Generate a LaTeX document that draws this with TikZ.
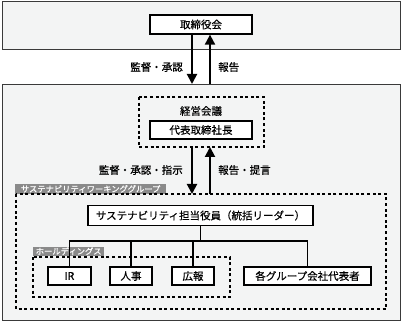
\documentclass[tikz,border=0pt]{standalone}
\usepackage{fontspec}
\setmainfont{Noto Sans CJK JP}[FakeBold=0.5]
\newfontfamily\tagfont{Noto Sans CJK JP}[FakeBold=0.7]
\usetikzlibrary{arrows.meta,positioning,calc}
\definecolor{panelfill}{HTML}{F3F4F4}
\definecolor{panelline}{HTML}{3A3A3A}
\definecolor{taggray}{HTML}{8A8A8A}
\tikzset{
  panel/.style={draw=panelline,line width=0.9pt,fill=panelfill},
  box/.style={draw=black,line width=1.3pt,fill=white,inner sep=0pt,minimum height=19pt,font=\fontsize{10.5}{12}\selectfont},
  dbox/.style={draw=black,line width=2pt,dash pattern=on 3pt off 2.6pt},
  tag/.style={fill=taggray,text=white,inner sep=0pt,font=\tagfont\fontsize{8.3}{9}\selectfont},
  lbl/.style={inner sep=0pt,font=\fontsize{10.5}{12}\selectfont},
  arr/.style={line width=2pt,-{Triangle[width=10pt,length=10pt]}},
  tree/.style={line width=1.3pt}
}
\begin{document}
\begin{tikzpicture}[x=1pt,y=-1pt]
\useasboundingbox (0,0) rectangle (402,323);
% panels
\draw[panel] (2,1) rectangle (400,49);
\draw[panel] (2,84) rectangle (400,320);
\coordinate (toppanelS) at (201,49);
\coordinate (botpanelN) at (201,84);
% board
\node[box,minimum width=102pt] (board) at (201,24.5) {取締役会};
% arrows between panels
\draw[arr] ([xshift=-9pt]board.south) -- ([xshift=-9pt]botpanelN);
\draw[arr] ([xshift=9pt]botpanelN) -- ([xshift=9pt]board.south);
\node[lbl,anchor=east] (l1) at (183,67) {監督・承認};
\node[lbl,anchor=west] (l2) at (218,67) {報告};
% management meeting
\draw[dbox] (139,97) rectangle (264,147);
\coordinate (mgS) at (201,147);
\node[lbl] (mg) at (201,111) {経営会議};
\node[box,minimum width=102pt,minimum height=18pt] (pres) at (201,130) {代表取締社長};
% WG tag and box
\node[tag,minimum width=151pt,minimum height=9.5pt,anchor=north west] (wgtag) at (15,184) {サステナビリティワーキンググループ};
\draw[dbox] (16,194) rectangle (386,309);
\coordinate (wgN) at (201,194);
\draw[arr] ([xshift=-9pt]mgS) -- ([xshift=-9pt]wgN);
\draw[arr] ([xshift=9pt]wgN) -- ([xshift=9pt]mgS);
\node[lbl,anchor=east] (l3) at (183,170) {監督・承認・指示};
\node[lbl,anchor=west] (l4) at (218,170) {報告・提言};
% officer
\node[box,minimum width=225pt,minimum height=20pt] (off) at (200.5,215.5) {サステナビリティ担当役員（統括リーダー）};
% holdings
\node[tag,minimum width=71pt,minimum height=9pt,anchor=north west] (hdtag) at (33,246.5) {ホールディングス};
\draw[dbox] (33,257) rectangle (230,297);
% leaves
\node[box,minimum width=43pt,minimum height=18pt] (ir) at (69.5,276) {IR};
\node[box,minimum width=42pt,minimum height=18pt] (hr) at (131,276) {人事};
\node[box,minimum width=42pt,minimum height=18pt] (pr) at (193,276) {広報};
\node[box,minimum width=127pt,minimum height=18pt] (grp) at (307.5,276) {各グループ会社代表者};
% tree
\draw[tree] (off.south) -- ++(0,15) coordinate (j);
\draw[tree] (ir.north) |- (j);
\draw[tree] (grp.north) |- (j);
\draw[tree] (hr.north) -- (hr.north |- j);
\draw[tree] (pr.north) -- (pr.north |- j);
\end{tikzpicture}
\end{document}
